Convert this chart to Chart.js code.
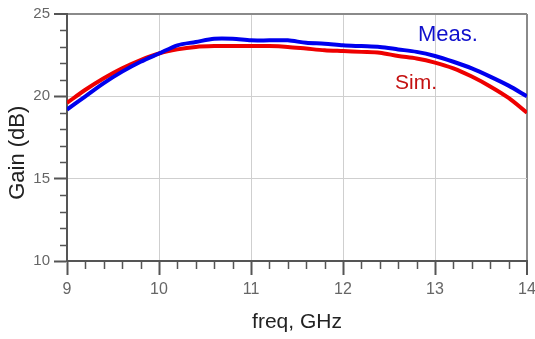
<!DOCTYPE html>
<html>
<head>
<meta charset="utf-8">
<script src="https://cdn.jsdelivr.net/npm/chart.js@4.4.1/dist/chart.umd.min.js"></script>
<style>
  html, body { margin: 0; padding: 0; background: #fff; }
  #wrap { width: 535px; height: 339px; }
</style>
</head>
<body>
<div id="wrap"><canvas id="gainChart" width="535" height="339"></canvas></div>
<script>
// frequency points (GHz)
const freqs = [9.0, 9.2, 9.4, 9.6, 9.8, 10.0, 10.2, 10.4, 10.6, 10.8, 11.0, 11.2, 11.4,
               11.6, 11.8, 12.0, 12.2, 12.4, 12.6, 12.8, 13.0, 13.2, 13.4, 13.6, 13.8, 14.0];

// measured gain (dB)
const measGain = [19.2, 20.0, 20.8, 21.5, 22.1, 22.6, 23.1, 23.3, 23.5, 23.5, 23.4, 23.4, 23.4,
                  23.25, 23.2, 23.1, 23.05, 23.0, 22.85, 22.7, 22.45, 22.1, 21.7, 21.2, 20.65, 20.0];

// simulated gain (dB)
const simGain = [19.6, 20.4, 21.1, 21.7, 22.2, 22.6, 22.85, 23.0, 23.05, 23.05, 23.05, 23.05, 23.0,
                 22.9, 22.8, 22.75, 22.7, 22.65, 22.45, 22.3, 22.05, 21.7, 21.2, 20.6, 19.9, 19.0];

// axis ticks
const xTicks = [9, 10, 11, 12, 13, 14];
const yTicks = [10, 15, 20, 25];
const xMinorStep = 0.2;
const yMinorStep = 1;

const AXIS_COLOR = '#555';
const GRID_COLOR = '#cfcfcf';

// minor tick marks + curve labels, drawn from the chart's own scales
const extrasPlugin = {
    id: 'extras',
    afterDatasetsDraw(chart) {
        const { ctx, chartArea, scales } = chart;
        const x = scales.x, y = scales.y;
        ctx.save();
        ctx.strokeStyle = AXIS_COLOR;
        ctx.lineWidth = 1.5;
        ctx.beginPath();
        for (let v = xTicks[0]; v <= xTicks[xTicks.length - 1] + 1e-9; v += xMinorStep) {
            if (Math.abs(v - Math.round(v)) < 1e-6) continue;
            const px = Math.round(x.getPixelForValue(v)) + 0.5;
            ctx.moveTo(px, chartArea.bottom);
            ctx.lineTo(px, chartArea.bottom + 8);
        }
        for (let v = yTicks[0]; v <= yTicks[yTicks.length - 1] + 1e-9; v += yMinorStep) {
            if (v % 5 === 0) continue;
            const py = Math.round(y.getPixelForValue(v)) + 0.5;
            ctx.moveTo(chartArea.left - 7, py);
            ctx.lineTo(chartArea.left, py);
        }
        ctx.stroke();

        ctx.textAlign = 'left';
        ctx.textBaseline = 'alphabetic';
        ctx.font = '22px "Liberation Sans", Arial, sans-serif';
        ctx.fillStyle = '#1010cc';
        ctx.fillText('Meas.', x.getPixelForValue(12.815), y.getPixelForValue(23.36));
        ctx.font = '21px "Liberation Sans", Arial, sans-serif';
        ctx.fillStyle = '#c41010';
        ctx.fillText('Sim.', x.getPixelForValue(12.565), y.getPixelForValue(20.45));
        ctx.restore();
    }
};

const ctx = document.getElementById('gainChart').getContext('2d');
new Chart(ctx, {
    type: 'line',
    data: {
        datasets: [
            {
                label: 'Meas.',
                data: freqs.map((f, i) => ({ x: f, y: measGain[i] })),
                borderColor: '#0000ee',
                borderWidth: 4,
                pointRadius: 0,
                tension: 0.3,
                fill: false,
            },
            {
                label: 'Sim.',
                data: freqs.map((f, i) => ({ x: f, y: simGain[i] })),
                borderColor: '#ee0000',
                borderWidth: 4,
                pointRadius: 0,
                tension: 0.3,
                fill: false,
            },
        ],
    },
    options: {
        responsive: false,
        animation: false,
        layout: { padding: { left: 0, right: 0, top: 14, bottom: 0 } },
        plugins: {
            legend: { display: false },
            tooltip: { enabled: false },
        },
        scales: {
            x: {
                type: 'linear',
                min: 9,
                max: 14,
                afterBuildTicks: scale => { scale.ticks = xTicks.map(v => ({ value: v })); },
                afterFit: scale => {
                    scale.height = 78;
                    scale.paddingLeft = 0;
                    scale.paddingRight = 8;
                },
                grid: {
                    color: c => (c.tick && c.tick.value === 14 ? '#8a8a8a' : GRID_COLOR),
                    lineWidth: c => (c.tick && c.tick.value === 14 ? 2 : 1),
                    tickColor: AXIS_COLOR,
                    tickLength: 14,
                    tickWidth: 2,
                },
                border: { color: AXIS_COLOR, width: 2 },
                ticks: {
                    color: '#666',
                    padding: 5,
                    maxRotation: 0,
                    font: { family: '"Liberation Sans", Arial, sans-serif', size: 16 },
                },
                title: {
                    display: true,
                    text: 'freq, GHz',
                    color: '#222',
                    padding: { bottom: 4 },
                    font: { family: '"Liberation Sans", Arial, sans-serif', size: 21 },
                },
            },
            y: {
                min: 10,
                max: 25,
                afterBuildTicks: scale => { scale.ticks = yTicks.map(v => ({ value: v })); },
                afterFit: scale => { scale.width = 67; },
                grid: {
                    color: c => (c.tick && c.tick.value === 25 ? '#8a8a8a' : GRID_COLOR),
                    lineWidth: c => (c.tick && c.tick.value === 25 ? 2 : 1),
                    tickColor: AXIS_COLOR,
                    tickLength: 13,
                    tickWidth: 2,
                },
                border: { color: AXIS_COLOR, width: 2 },
                ticks: {
                    color: '#666',
                    padding: 4,
                    font: { family: '"Liberation Sans", Arial, sans-serif', size: 15 },
                },
                title: {
                    display: true,
                    text: 'Gain (dB)     ',
                    color: '#222',
                    padding: { top: 5 },
                    font: { family: '"Liberation Sans", Arial, sans-serif', size: 22 },
                },
            },
        },
    },
    plugins: [extrasPlugin],
});
</script>
</body>
</html>
